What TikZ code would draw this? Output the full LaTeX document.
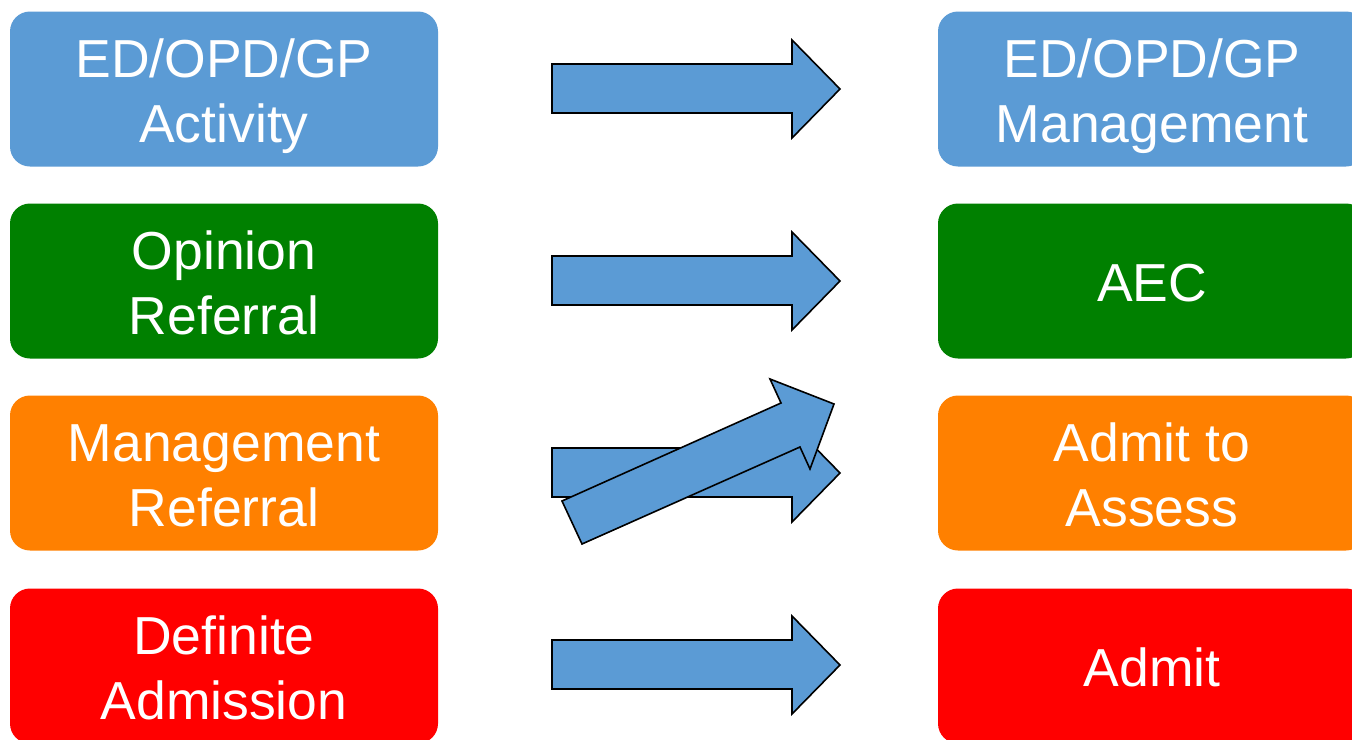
\documentclass[tikz,border=0pt]{standalone}
\usepackage{fontspec}
\setmainfont{Liberation Sans}
\definecolor{cblue}{RGB}{91,155,213}
\definecolor{cgreen}{RGB}{0,128,0}
\definecolor{corange}{RGB}{255,128,0}
\definecolor{cred}{RGB}{255,0,0}
\newcommand\boxtxt[1]{\raisebox{-7.5pt}[\height][\depth]{\begin{tabular}{@{}c@{}}#1\end{tabular}}}
\tikzset{
  box/.style={rounded corners=20pt, minimum width=428pt, minimum height=155pt,
    inner sep=0pt, text=white, font=\fontsize{53.5}{65}\selectfont},
  blockarrow/.style={fill=cblue, draw=black, line width=1.6pt, line join=miter}
}
\begin{document}
\begin{tikzpicture}[x=1pt,y=-1pt]
\useasboundingbox (0,0) rectangle (1352,739);
\clip (0,0) rectangle (1352,739);
\fill[white] (0,0) rectangle (1352,739);
% left boxes
\node[box, fill=cblue]   (l1) at (224,89)  {\boxtxt{ED/OPD/GP\\Activity}};
\node[box, fill=cgreen]  (l2) at (224,281) {\boxtxt{Opinion\\Referral}};
\node[box, fill=corange] (l3) at (224,473) {\boxtxt{Management\\Referral}};
\node[box, fill=cred]    (l4) at (224,666) {\boxtxt{Definite\\Admission}};
% right boxes
\node[box, fill=cblue]   (r1) at (1152,89)  {\boxtxt{ED/OPD/GP\\Management}};
\node[box, fill=cgreen]  (r2) at (1152,281) {\boxtxt{AEC}};
\node[box, fill=corange] (r3) at (1152,473) {\boxtxt{Admit to\\Assess}};
\node[box, fill=cred]    (r4) at (1152,666) {\boxtxt{Admit}};
% horizontal block arrows
\foreach \yy in {89,281,473,665}{
  \draw[blockarrow] (552,\yy-25) -- (792,\yy-25) -- (792,\yy-49) -- (840,\yy)
    -- (792,\yy+49) -- (792,\yy+24) -- (552,\yy+24) -- cycle;
}
% diagonal block arrow
\draw[blockarrow] (562,501) -- (781,403) -- (770,379) -- (834,404) -- (810,469)
  -- (800,447) -- (582,544) -- cycle;
\end{tikzpicture}
\end{document}
